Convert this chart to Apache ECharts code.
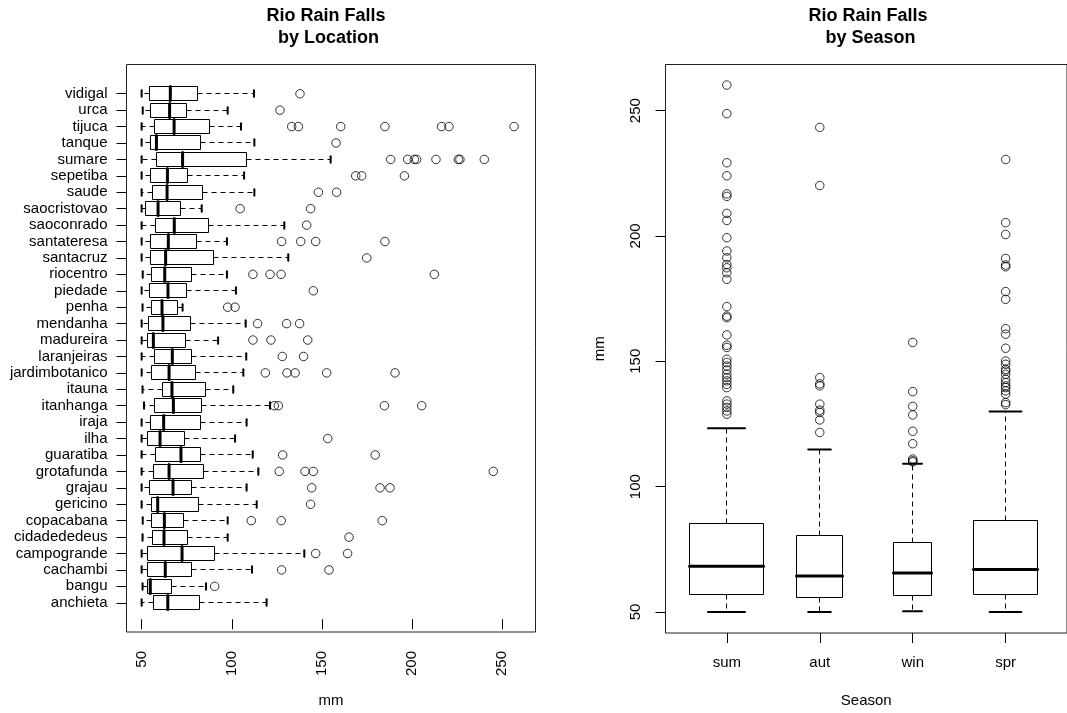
<!DOCTYPE html>
<html><head><meta charset="utf-8">
<script src="https://cdn.jsdelivr.net/npm/echarts@6/dist/echarts.min.js"></script>
<style>html,body{margin:0;padding:0;background:#fff}#c{width:1067px;height:713px}</style>
</head><body><div id="c"></div>
<script>
// ---- data ----
const locations = ['anchieta','bangu','cachambi','campogrande','cidadededeus','copacabana','gericino','grajau',
  'grotafunda','guaratiba','ilha','iraja','itanhanga','itauna','jardimbotanico','laranjeiras','madureira',
  'mendanha','penha','piedade','riocentro','santacruz','santateresa','saoconrado','saocristovao','saude',
  'sepetiba','sumare','tanque','tijuca','urca','vidigal'];
const locLow  = [50,50.5,50,50,50.5,50.6,50,50,50,50,50,50,51.3,50.5,50,50,50,50,50.5,50,50.6,50,50,50,50,50,50,50,50,50,50.6,50];
const locQ1   = [56.3,53.0,53.2,53.0,55.9,55.5,55.5,54.3,56.7,57.8,53.3,55.0,57.2,61.6,55.7,57.2,53.5,53.9,55.7,54.4,55.5,55.0,55.0,57.6,51.9,56.1,54.8,58.3,55.0,57.2,55.0,54.6];
const locMed  = [64.5,54.8,63.1,72.4,62.4,62.6,58.9,67.4,65.2,71.8,60.2,62.2,67.6,66.8,65.2,67.0,56.5,61.8,61.3,64.6,62.8,63.3,64.8,68.1,59.1,64.1,64.3,72.7,58.2,68.0,65.5,65.9];
const locQ3   = [82.2,66.8,77.9,90.5,75.5,73.3,81.8,77.4,84.4,82.4,73.5,82.4,83.1,85.3,80.1,77.9,74.2,77.0,70.0,74.6,77.9,89.8,80.3,86.8,71.3,83.7,75.7,107.9,82.7,87.9,74.8,80.9];
const locHigh = [119.3,85.7,111.2,140.2,97.7,97.7,113.8,108.2,114.7,111.6,101.8,108.2,121.2,100.8,106.4,108.0,92.4,107.7,72.7,102.3,97.3,131.3,97.3,129.1,83.3,112.5,106.8,154.8,112.5,105.1,97.7,112.3];
const locOutliers = [
  [], [90.5], [127.6,153.9], [146.5,164.2], [165.0], [110.8,127.4,183.4], [143.7], [144.3,182.2,187.7],
  [126.3,140.6,145.2,245.0], [128.2,179.5], [153.2], [], [123.6,125.8,184.6,205.3], [],
  [118.6,130.6,135.1,152.6,190.5], [128.0,139.8], [111.7,121.7,142.1], [114.3,130.4,137.6], [97.7,101.8],
  [145.2], [111.7,121.2,127.3,212.3], [174.8], [127.6,138.2,146.5,184.9], [141.5], [104.6,143.7],
  [148.0,158.1], [168.7,172.0,195.7], [188.1,197.5,201.2,202.5,213.2,225.6,226.5,240.0], [157.8],
  [133.2,136.9,160.4,184.9,216.3,220.4,256.5], [126.7], [137.8]
];
const seasons = ['sum','aut','win','spr'];
const seaLow  = [50,50,50.3,50];
const seaQ1   = [57.0,55.8,56.5,56.8];
const seaMed  = [68.2,64.3,65.5,66.9];
const seaQ3   = [85.2,80.3,77.8,86.3];
const seaHigh = [123.3,114.8,109.1,130.0];
const seaOutliers = [
  [260.2,248.8,229.2,224.0,216.8,215.8,209.0,206.2,199.3,194.0,191.3,188.6,187.3,185.3,182.7,171.8,168.0,167.4,160.5,156.4,155.5,150.8,149.5,148.1,146.5,144.8,143.5,142.2,140.8,139.5,134.2,132.9,131.6,130.2,128.9],
  [243.3,220.1,143.5,141.0,140.2,132.9,130.5,129.6,126.6,121.6],
  [157.5,137.9,132.0,128.6,122.1,117.1,111.0,110.3,109.9],
  [230.5,205.3,200.6,191.0,188.4,187.7,177.8,174.7,163.0,160.8,155.2,150.1,148.8,146.8,146.1,144.8,142.8,141.5,140.2,139.5,138.2,136.9,133.5,132.7]
];
const mmTicks = [50,100,150,200,250];

// ---- style ----
const seasonBoxWidth = [0.80,0.486,0.41,0.687]; // relative box widths (varwidth)
const FONT = '"Liberation Sans", Arial, Helvetica, sans-serif';
const crisp = v => Math.round(v - 0.5) + 0.5;
const DASH = {stroke:'#000', lineWidth:1, lineDash:[5,4], fill:null};
const CAP = {stroke:'#000', lineWidth:2, lineCap:'round', fill:null};
const MED = {stroke:'#000', lineWidth:3, lineCap:'round', fill:null};

function renderLoc(params, api){
  const pos = api.value(0);
  const lo = api.coord([api.value(1), pos]);
  const q1 = api.coord([api.value(2), pos]);
  const md = api.coord([api.value(3), pos]);
  const q3 = api.coord([api.value(4), pos]);
  const hi = api.coord([api.value(5), pos]);
  const h = api.size([0, 0.8])[1];
  const yc = crisp(lo[1]);
  const top = crisp(yc - h/2), bot = crisp(yc + h/2);
  const c = h/4;
  const xq1 = crisp(q1[0]), xq3 = crisp(q3[0]);
  return {type:'group', children:[
    {type:'line', shape:{x1:xq1,y1:yc,x2:lo[0],y2:yc}, style:DASH},
    {type:'line', shape:{x1:xq3,y1:yc,x2:hi[0],y2:yc}, style:DASH},
    {type:'line', shape:{x1:lo[0],y1:yc-c,x2:lo[0],y2:yc+c}, style:CAP},
    {type:'line', shape:{x1:hi[0],y1:yc-c,x2:hi[0],y2:yc+c}, style:CAP},
    {type:'rect', shape:{x:xq1,y:top,width:xq3-xq1,height:bot-top}, style:{fill:'#fff',stroke:'#000',lineWidth:1}},
    {type:'line', shape:{x1:md[0],y1:top,x2:md[0],y2:bot}, style:MED}
  ]};
}
function renderSea(params, api){
  const pos = api.value(0);
  const lo = api.coord([pos, api.value(1)]);
  const q1 = api.coord([pos, api.value(2)]);
  const md = api.coord([pos, api.value(3)]);
  const q3 = api.coord([pos, api.value(4)]);
  const hi = api.coord([pos, api.value(5)]);
  const w = api.size([seasonBoxWidth[params.dataIndex], 0])[0];
  const xc = crisp(lo[0]);
  const l = crisp(xc - w/2), r = crisp(xc + w/2);
  const c = w/4;
  const yq1 = crisp(q1[1]), yq3 = crisp(q3[1]);
  return {type:'group', children:[
    {type:'line', shape:{x1:xc,y1:yq1,x2:xc,y2:lo[1]}, style:DASH},
    {type:'line', shape:{x1:xc,y1:yq3,x2:xc,y2:hi[1]}, style:DASH},
    {type:'line', shape:{x1:xc-c,y1:lo[1],x2:xc+c,y2:lo[1]}, style:CAP},
    {type:'line', shape:{x1:xc-c,y1:hi[1],x2:xc+c,y2:hi[1]}, style:CAP},
    {type:'rect', shape:{x:l,y:yq3,width:r-l,height:yq1-yq3}, style:{fill:'#fff',stroke:'#000',lineWidth:1}},
    {type:'line', shape:{x1:l,y1:md[1],x2:r,y2:md[1]}, style:MED}
  ]};
}

const locPos = locations.map((_, i) => i + 1);
const seaPos = seasons.map((_, i) => i + 1);
const labelStyle = {color:'#000', fontSize:15, fontFamily:FONT};
const tickStyle = {lineStyle:{color:'#000', width:1}};
const outlierStyle = {color:'rgba(0,0,0,0)', borderColor:'#000', borderWidth:1};

const option = {
  animation:false,
  backgroundColor:'#fff',
  title:[
    {text:'Rio Rain Falls\n by Location', left:326, top:5, textAlign:'center', padding:0,
     textStyle:{fontSize:18, fontWeight:'bold', lineHeight:22, color:'#000', fontFamily:FONT}},
    {text:'Rio Rain Falls\n by Season', left:868, top:5, textAlign:'center', padding:0,
     textStyle:{fontSize:18, fontWeight:'bold', lineHeight:22, color:'#000', fontFamily:FONT}}
  ],
  grid:[
    {left:126.5, top:64.5, width:409, height:569, show:true, borderColor:'#222', borderWidth:1, backgroundColor:'transparent'},
    {left:665.5, top:64.5, width:409, height:569, show:true, borderColor:'#222', borderWidth:1, backgroundColor:'transparent'}
  ],
  xAxis:[
    {gridIndex:0, type:'value', min:41.6, max:268.4, splitLine:{show:false}, axisLine:{show:false},
     axisTick:{show:true, length:10, customValues:mmTicks, ...tickStyle},
     axisLabel:{customValues:mmTicks, rotate:90, margin:19, ...labelStyle},
     name:'mm', nameLocation:'middle', nameGap:61, nameTextStyle:labelStyle},
    {gridIndex:1, type:'value', min:0.34, max:4.66, splitLine:{show:false}, axisLine:{show:false},
     axisTick:{show:true, length:10, customValues:seaPos, ...tickStyle},
     axisLabel:{customValues:seaPos, margin:22, formatter:v => seasons[Math.round(v)-1], ...labelStyle},
     name:'Season', nameLocation:'middle', nameGap:60, nameTextStyle:labelStyle}
  ],
  yAxis:[
    {gridIndex:0, type:'value', min:-0.78, max:33.78, splitLine:{show:false}, axisLine:{show:false},
     axisTick:{show:true, length:10, customValues:locPos, ...tickStyle},
     axisLabel:{customValues:locPos, margin:19, formatter:v => locations[Math.round(v)-1], ...labelStyle}},
    {gridIndex:1, type:'value', min:41.6, max:268.4, splitLine:{show:false}, axisLine:{show:false},
     axisTick:{show:true, length:10, customValues:mmTicks, ...tickStyle},
     axisLabel:{customValues:mmTicks, rotate:90, margin:22, ...labelStyle},
     name:'mm', nameLocation:'middle', nameRotate:90, nameGap:58, nameTextStyle:labelStyle}
  ],
  series:[
    {type:'custom', xAxisIndex:0, yAxisIndex:0, renderItem:renderLoc, silent:true,
     encode:{x:[1,2,3,4,5], y:0},
     data:locations.map((_, i) => [i+1, locLow[i], locQ1[i], locMed[i], locQ3[i], locHigh[i]])},
    {type:'scatter', xAxisIndex:0, yAxisIndex:0, symbol:'circle', symbolSize:8.5, silent:true,
     itemStyle:outlierStyle,
     data:locOutliers.flatMap((arr, i) => arr.map(v => [v, i+1]))},
    {type:'custom', xAxisIndex:1, yAxisIndex:1, renderItem:renderSea, silent:true,
     encode:{x:0, y:[1,2,3,4,5]},
     data:seasons.map((_, i) => [i+1, seaLow[i], seaQ1[i], seaMed[i], seaQ3[i], seaHigh[i]])},
    {type:'scatter', xAxisIndex:1, yAxisIndex:1, symbol:'circle', symbolSize:8.5, silent:true,
     itemStyle:outlierStyle,
     data:seaOutliers.flatMap((arr, i) => arr.map(v => [i+1, v]))}
  ]
};
const chart = echarts.init(document.getElementById('c'), null, {renderer:'canvas'});
chart.setOption(option);
</script>
</body></html>
